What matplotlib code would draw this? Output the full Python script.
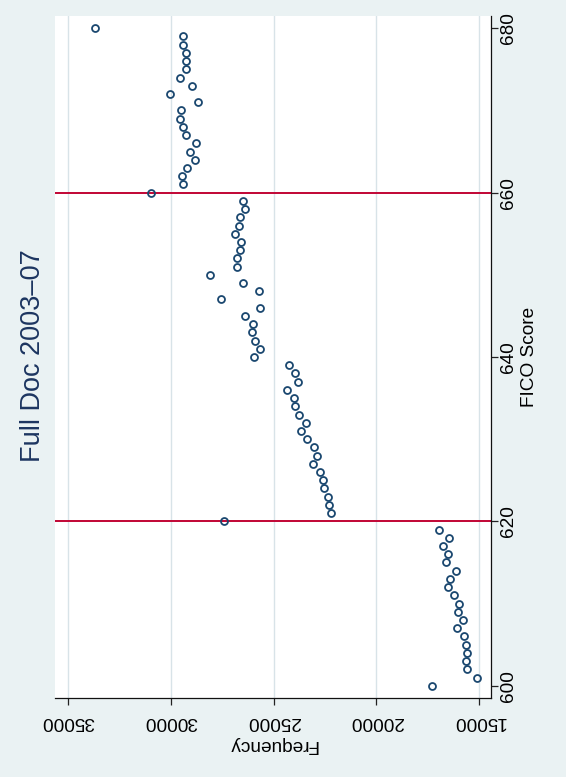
import numpy as np
import matplotlib
matplotlib.use("Agg")
import matplotlib.pyplot as plt

plt.rcParams['font.family'] = ['Liberation Sans', 'DejaVu Sans']

# FICO score (600-680) and loan counts
fico = np.arange(600, 681)
frequency = [
    17290, 15120, 15563, 15633, 15598, 15633, 15721, 16055, 15756, 16002,  # 600-609
    15985, 16231, 16512, 16389, 16125, 16600, 16529, 16740, 16459, 16969,  # 610-619
    27394, 22208, 22314, 22349, 22560, 22577, 22753, 23087, 22911, 23016,  # 620-629
    23368, 23685, 23421, 23772, 23966, 24019, 24335, 23825, 23966, 24265,  # 630-639
    25970, 25689, 25900, 26058, 26005, 26392, 25671, 27552, 25724, 26480,  # 640-649
    28097, 26780, 26790, 26656, 26585, 26902, 26673, 26656, 26409, 26497,  # 650-659
    30963, 29434, 29486, 29222, 28853, 29064, 28765, 29290, 29416, 29573,  # 660-669
    29504, 28677, 30047, 28976, 29573, 29290, 29290, 29277, 29400, 29410,  # 670-679
    33707,                                                                 # 680
]
cutoffs = [620, 660]
freq_ticks = [35000, 30000, 25000, 20000, 15000]
fico_ticks = [600, 620, 640, 660, 680]

bg = '#EAF2F3'
navy = '#1A476F'
red = '#C10534'

W, H = 566, 777
fig = plt.figure(figsize=(W / 100, H / 100), dpi=100)
fig.patch.set_facecolor(bg)

# axes placed in pixels: left 55, right 491, top 15.7, bottom 698.3
ax = fig.add_axes([55 / W, (H - 698.3) / H, (491 - 55) / W, (698.3 - 15.7) / H])
ax.set_facecolor('white')

ax.grid(axis='x', color='#D8E3E8', lw=1.0, zorder=0)
ax.grid(axis='y', visible=False)
for c in cutoffs:
    ax.axhline(c, color=red, lw=1.4, zorder=2)
ax.plot(frequency, fico, 'o', mfc='none', mec=navy, ms=5.0, mew=1.3, zorder=3)

ax.set_xlim(35648, 14416)
ax.set_ylim(598.47, 681.53)

ax.set_xticks(freq_ticks)
ax.set_xticklabels([str(t) for t in freq_ticks], rotation=180)
ax.set_yticks(fico_ticks)
ax.yaxis.tick_right()
ax.set_yticklabels([str(t) for t in fico_ticks], rotation=90, va='center')

ax.tick_params(axis='x', direction='out', length=5, width=0.9, pad=5.5,
               labelsize=13.7, color='#222222')
ax.tick_params(axis='y', direction='out', length=5.2, width=0.9, pad=1.5,
               labelsize=13.7, color='#222222')

for s in ['left', 'top']:
    ax.spines[s].set_visible(False)
for s in ['right', 'bottom']:
    ax.spines[s].set_color('#111111')
    ax.spines[s].set_linewidth(0.9)

fig.text(272.7 / W, 1 - 744 / H, 'Frequency', rotation=180,
         ha='center', va='center', fontsize=13.7)
fig.text(530 / W, 1 - 357 / H, 'FICO Score', rotation=90,
         ha='center', va='center', fontsize=13.7)
fig.text(33 / W, 1 - 355.5 / H, 'Full Doc 2003\u201307', rotation=90,
         ha='center', va='center', fontsize=19.5, color='#1C3560')

fig.savefig('out.png', dpi=100, facecolor=bg)
